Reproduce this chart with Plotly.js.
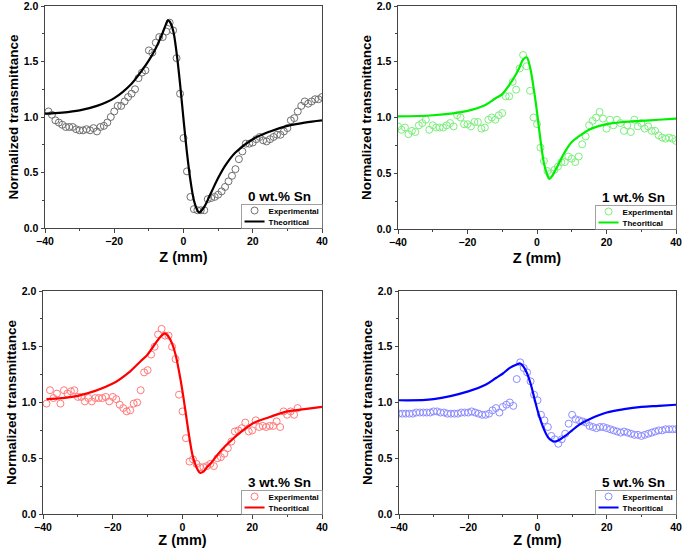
<!DOCTYPE html>
<html>
<head>
<meta charset="utf-8">
<script src="https://cdn.plot.ly/plotly-3.0.1.min.js"></script>
<style>html,body{margin:0;padding:0;background:#fff;}#chart{width:685px;height:548px;}</style>
</head>
<body>
<div id="chart"></div>
<script>
// ---------- Data ----------
const panelLabels = ["0 wt.% Sn", "1 wt.% Sn", "3 wt.% Sn", "5 wt.% Sn"];
const legendNames = ["Experimental", "Theoritical"];
const xTickVals = [-40, -20, 0, 20, 40];
const yTickVals = [0, 0.5, 1.0, 1.5, 2.0];

// Panel 1: 0 wt.% Sn
const zExp0 = [-39,-38,-37,-36,-35,-34,-33,-32,-31,-30,-29,-28,-27,-26,-25,-24,-23,-22,-21,-20,-19,-18,-17,-16,-15,-14,-13,-12,-11,-10,-9,-8,-7,-6,-5,-4,-3,-2,-1,0,1,2,3,4,5,6,7,8,9,10,11,12,13,14,15,16,17,18,19,20,21,22,23,24,25,26,27,28,29,30,31,32,33,34,35,36,37,38,39,40];
const tExp0 = [1.05,1.02,0.97,0.95,0.93,0.91,0.91,0.91,0.89,0.88,0.88,0.89,0.88,0.90,0.87,0.91,0.92,0.95,1.00,1.05,1.10,1.10,1.14,1.18,1.21,1.25,1.35,1.40,1.42,1.60,1.58,1.67,1.72,1.72,1.77,1.85,1.78,1.53,1.21,0.81,0.51,0.28,0.17,0.16,0.16,0.16,0.26,0.27,0.28,0.30,0.33,0.37,0.42,0.47,0.53,0.62,0.69,0.76,0.76,0.77,0.80,0.82,0.79,0.78,0.80,0.82,0.84,0.84,0.87,0.90,0.97,0.99,1.05,1.10,1.14,1.12,1.14,1.16,1.16,1.18];
const zTh0 = [-40,-35,-30,-25,-20,-15,-12,-10,-8,-6,-5,-4.5,-4,-3,-2,-1,0,1,2,3,4,4.5,5,6,8,10,12,15,20,25,30,35,40];
const tTh0 = [1.03,1.04,1.06,1.10,1.17,1.30,1.42,1.51,1.62,1.76,1.84,1.87,1.86,1.78,1.58,1.30,0.98,0.68,0.43,0.25,0.16,0.14,0.15,0.19,0.32,0.45,0.56,0.68,0.80,0.87,0.92,0.95,0.97];

// Panel 2: 1 wt.% Sn
const zExp1 = [-40,-39,-38,-37,-36,-35,-34,-33,-32,-31,-30,-29,-28,-27,-26,-25,-24,-23,-22,-21,-20,-19,-18,-17,-16,-15,-14,-13,-12,-11,-10,-9,-8,-7,-6,-5,-4,-3,-2,-1,0,1,2,3,4,5,6,7,8,9,10,11,12,13,14,15,16,17,18,19,20,21,22,23,24,25,26,27,28,29,30,31,32,33,34,35,36,37,38,39,40];
const tExp1 = [0.92,0.89,0.91,0.85,0.88,0.87,0.93,0.95,0.98,0.89,0.93,0.91,0.91,0.91,0.93,0.95,0.92,1.02,1.00,0.94,0.94,0.92,0.96,0.96,0.90,0.91,0.98,1.00,0.98,1.02,1.04,1.19,1.19,1.32,1.25,1.44,1.56,1.46,1.24,1.00,0.94,0.73,0.61,0.52,0.50,0.53,0.56,0.60,0.60,0.65,0.63,0.60,0.65,0.76,0.83,0.93,0.97,1.00,1.05,0.99,0.90,0.98,0.93,0.98,0.95,0.88,0.93,0.87,0.98,0.92,0.95,0.90,0.92,0.88,0.88,0.84,0.82,0.81,0.82,0.81,0.79];
const zTh1 = [-40,-30,-20,-15,-12,-10,-8,-6,-5,-4,-3,-2,-1,0,1,2,3,3.5,4,5,6,8,10,12,15,20,25,30,35,40];
const tTh1 = [1.01,1.02,1.06,1.11,1.17,1.21,1.29,1.39,1.45,1.52,1.54,1.45,1.27,1.05,0.80,0.59,0.48,0.45,0.46,0.51,0.57,0.69,0.78,0.83,0.89,0.94,0.96,0.97,0.98,0.99];

// Panel 3: 3 wt.% Sn
const zExp3 = [-39,-38,-37,-36,-35,-34,-33,-32,-31,-30,-29,-28,-27,-26,-25,-24,-23,-22,-21,-20,-19,-18,-17,-16,-15,-14,-13,-12,-11,-10,-9,-8,-7,-6,-5,-4,-3,-2,-1,0,1,2,3,4,5,6,7,8,9,10,11,12,13,14,15,16,17,18,19,20,21,22,23,24,25,26,27,28,29,30,31,32,33];
const tExp3 = [0.99,1.11,1.04,1.08,0.99,1.11,1.08,1.10,1.11,1.05,1.05,1.01,1.04,1.01,1.04,1.04,1.04,1.05,1.01,1.05,1.03,0.98,0.95,0.92,0.93,0.99,1.00,1.11,1.27,1.29,1.43,1.50,1.61,1.66,1.60,1.60,1.50,1.39,1.07,0.92,0.68,0.47,0.49,0.45,0.42,0.42,0.43,0.45,0.43,0.50,0.51,0.54,0.59,0.65,0.74,0.75,0.77,0.82,0.74,0.75,0.84,0.78,0.79,0.78,0.79,0.79,0.83,0.78,0.92,0.89,0.92,0.89,0.95];
const zTh3 = [-39,-30,-20,-15,-12,-10,-8,-6,-5,-4,-3,-2,-1,0,1,2,3,4,5,6,7,8,10,12,15,20,25,30,35,40];
const tTh3 = [1.03,1.06,1.17,1.28,1.37,1.43,1.52,1.60,1.62,1.59,1.53,1.43,1.28,1.10,0.89,0.68,0.51,0.42,0.37,0.38,0.42,0.45,0.53,0.60,0.69,0.81,0.87,0.92,0.94,0.96];

// Panel 4: 5 wt.% Sn
const zExp5 = [-40,-39,-38,-37,-36,-35,-34,-33,-32,-31,-30,-29,-28,-27,-26,-25,-24,-23,-22,-21,-20,-19,-18,-17,-16,-15,-14,-13,-12,-11,-10,-9,-8,-7,-6,-5,-4,-3,-2,-1,0,1,2,3,4,5,6,7,8,9,10,11,12,13,14,15,16,17,18,19,20,21,22,23,24,25,26,27,28,29,30,31,32,33,34,35,36,37,38,39,40];
const tExp5 = [0.90,0.90,0.90,0.90,0.90,0.91,0.91,0.91,0.91,0.91,0.92,0.92,0.91,0.91,0.90,0.90,0.90,0.90,0.91,0.91,0.91,0.92,0.91,0.90,0.89,0.89,0.90,0.93,0.95,0.91,0.96,0.98,1.00,0.97,1.21,1.36,1.31,1.27,1.19,1.07,1.02,0.89,0.84,0.78,0.70,0.67,0.63,0.67,0.72,0.81,0.89,0.85,0.84,0.83,0.82,0.79,0.78,0.77,0.78,0.78,0.77,0.76,0.75,0.74,0.73,0.74,0.73,0.72,0.71,0.71,0.70,0.71,0.72,0.73,0.74,0.75,0.75,0.76,0.76,0.76,0.76];
const zTh5 = [-40,-30,-20,-15,-12,-10,-8,-6,-5,-4,-3,-2,-1,0,1,2,3,4,5,6,8,10,12,15,20,25,30,35,40];
const tTh5 = [1.02,1.03,1.10,1.16,1.22,1.26,1.31,1.34,1.35,1.32,1.26,1.17,1.05,0.93,0.83,0.75,0.69,0.66,0.65,0.66,0.70,0.75,0.80,0.85,0.91,0.94,0.96,0.97,0.98];

// ---------- Styling / layout ----------
const W = 685, H = 548;
const FONT = "Arial, 'Liberation Sans', sans-serif";
// plot boxes in pixels [left, right, top, bottom]
const boxes = [[45,322,6,228],[398,676,6,229],[43,322,291,514],[399,676,291,514]];
const markerColors = ["#707070", "#7dee7d", "#ff7a7a", "#8c8cff"];
const lineColors = ["#000000", "#00ee00", "#ff0000", "#0000ff"];
const expZ = [zExp0, zExp1, zExp3, zExp5];
const expT = [tExp0, tExp1, tExp3, tExp5];
const thZ = [zTh0, zTh1, zTh3, zTh5];
const thT = [tTh0, tTh1, tTh3, tTh5];

const traces = [];
const layout = {
  width: W, height: H,
  margin: {l: 0, r: 0, t: 0, b: 0},
  paper_bgcolor: "#fff", plot_bgcolor: "#fff",
  font: {family: FONT, size: 10.5, color: "#000", weight: "bold"},
  showlegend: true,
  annotations: []
};
const legendIds = [];

for (let i = 0; i < 4; i++) {
  const s = i === 0 ? "" : String(i + 1);
  const [l, r, t, b] = boxes[i];
  const leg = i === 0 ? "legend" : "legend" + (i + 1);
  legendIds.push(leg);
  traces.push({
    x: expZ[i], y: expT[i], xaxis: "x" + s, yaxis: "y" + s,
    type: "scatter", mode: "markers", name: legendNames[0], legend: leg,
    marker: {symbol: "circle-open", size: 7, color: markerColors[i], line: {width: 1, color: markerColors[i]}}
  });
  traces.push({
    x: thZ[i], y: thT[i], xaxis: "x" + s, yaxis: "y" + s,
    type: "scatter", mode: "lines", name: legendNames[1], legend: leg,
    line: {color: lineColors[i], width: 2.2, shape: "spline", smoothing: 1}
  });
  const axCommon = {
    showgrid: false, zeroline: false, showline: true, mirror: true,
    linecolor: "#444", linewidth: 1, ticks: "outside", ticklen: 3.5, tickwidth: 1, tickcolor: "#444",
    ticklabeloverflow: "allow",
    tickfont: {family: FONT, size: 10.5, color: "#000", weight: "bold"}
  };
  layout["xaxis" + s] = Object.assign({}, axCommon, {
    domain: [l / W, r / W], anchor: "y" + s, range: [-40, 40],
    tickvals: xTickVals, ticktext: xTickVals.map(v => v < 0 ? "\u2212" + Math.abs(v) : String(v)),
    minor: {ticks: "outside", ticklen: 2, tickcolor: "#444", dtick: 10, tick0: 0},
    title: {text: "Z (mm)", font: {family: FONT, size: 14.5, color: "#000", weight: "bold"}, standoff: 5}
  });
  layout["yaxis" + s] = Object.assign({}, axCommon, {
    domain: [1 - b / H, 1 - t / H], anchor: "x" + s, range: [0, 2],
    tickvals: yTickVals, ticktext: yTickVals.map(v => v.toFixed(1)),
    minor: {ticks: "outside", ticklen: 2, tickcolor: "#444", dtick: 0.25, tick0: 0},
    title: {text: "Normalized transmittance", font: {family: FONT, size: 13.5, color: "#000", weight: "bold"}, standoff: 2}
  });
  layout[leg] = {
    x: r / W, y: 1 - b / H, xanchor: "right", yanchor: "bottom",
    bgcolor: "rgba(255,255,255,0)", bordercolor: "#888", borderwidth: 0.8,
    font: {family: FONT, size: 8, color: "#000", weight: "bold"},
    itemwidth: 30, tracegroupgap: 0
  };
  layout.annotations.push({
    xref: "paper", yref: "paper", x: (r - 43) / W, y: 1 - (b - 32) / H,
    xanchor: "center", yanchor: "middle", showarrow: false,
    text: panelLabels[i], font: {family: FONT, size: 13.5, color: "#000", weight: "bold"}
  });
}

// Compact the legend boxes (Plotly enforces a 19px minimum row height and a 30px symbol slot).
function parseT(el) {
  const m = /translate\(([^,\s)]+)[,\s]*([^)]*)\)/.exec(el.getAttribute("transform") || "");
  return m ? [parseFloat(m[1]) || 0, parseFloat(m[2]) || 0] : [0, 0];
}
function compactLegends() {
  const LEG_H = 24, TEXT_X = 27;
  legendIds.forEach((id, i) => {
    const g = document.querySelector("g." + id);
    if (!g) return;
    const bg = g.querySelector("rect.bg");
    const items = g.querySelectorAll("g.traces");
    let maxW = 0;
    items.forEach((it, k) => {
      const tx = parseT(it)[0];
      it.setAttribute("transform", "translate(" + tx + "," + (6.5 + k * 11) + ")");
      it.querySelectorAll("g.legendlines path").forEach(p => p.setAttribute("d", "M3,0h20"));
      it.querySelectorAll("path.scatterpts").forEach(p => p.setAttribute("transform", "translate(13,0)"));
      const txt = it.querySelector("text");
      if (txt) {
        txt.setAttribute("x", TEXT_X);
        txt.querySelectorAll("tspan[x]").forEach(sp => sp.setAttribute("x", TEXT_X));
        let tw = 0;
        try { tw = txt.getComputedTextLength(); } catch (e) { tw = 0; }
        if (!tw) { try { tw = txt.getBBox().width; } catch (e) { tw = 0; } }
        maxW = Math.max(maxW, tw || 50);
      }
    });
    const w = TEXT_X + maxW + 4;
    if (bg) { bg.setAttribute("height", LEG_H); bg.setAttribute("width", w); }
    g.setAttribute("transform", "translate(" + (boxes[i][1] - w) + "," + (boxes[i][3] - LEG_H) + ")");
  });
}

Plotly.newPlot("chart", traces, layout, {displayModeBar: false, staticPlot: true}).then(compactLegends);
</script>
</body>
</html>
